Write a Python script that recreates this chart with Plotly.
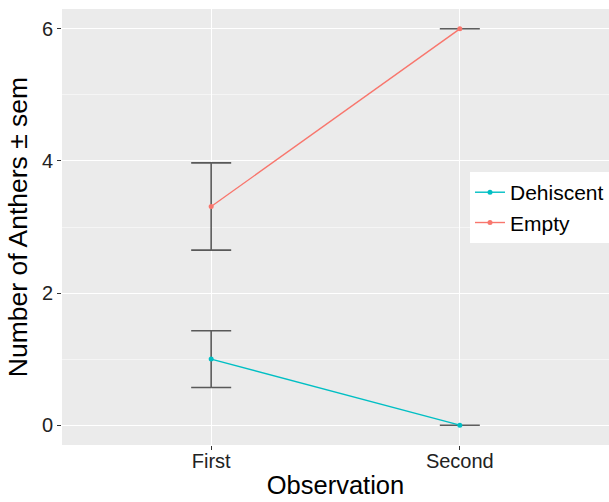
import plotly.graph_objects as go

observations = ["First", "Second"]
series_names = ["Dehiscent", "Empty"]
dehiscent_mean = [1.0, 0.0]
dehiscent_sem = [0.43, 0.0]
empty_mean = [3.31, 6.0]
empty_sem = [0.66, 0.0]
colors = {"Dehiscent": "#00BFC4", "Empty": "#F8766D"}

data = {"Dehiscent": (dehiscent_mean, dehiscent_sem), "Empty": (empty_mean, empty_sem)}

fig = go.Figure()
# error bars first (drawn beneath lines)
for name in series_names:
    m, s = data[name]
    fig.add_trace(go.Scatter(
        x=observations, y=m, mode="markers",
        marker=dict(size=1, opacity=0),
        error_y=dict(type="data", array=s, visible=True, color="rgba(40,40,40,0.75)", thickness=1.6, width=20),
        showlegend=False, hoverinfo="skip"))
for name in series_names:
    m, s = data[name]
    fig.add_trace(go.Scatter(
        x=observations, y=m, mode="lines+markers", name=name,
        line=dict(color=colors[name], width=1.4),
        marker=dict(color=colors[name], size=5)))

fig.update_layout(
    width=609, height=502,
    margin=dict(l=62, r=0, t=9, b=57, autoexpand=False),
    paper_bgcolor="white", plot_bgcolor="#EBEBEB",
    font=dict(family="Liberation Sans, Arial, sans-serif", color="black"),
    legend=dict(x=1, y=0.626, xanchor="right", yanchor="top",
                bgcolor="white", font=dict(size=21, color="black"),
                tracegroupgap=0, itemwidth=30),
    showlegend=True,
)
fig.update_xaxes(
    title=dict(text="Observation", font=dict(size=25.5, color="black"), standoff=5),
    tickfont=dict(size=20, color="#222"), automargin=False, ticklabelstandoff=-6,
    range=[-0.6, 1.6], showgrid=True, gridcolor="white", gridwidth=1.2,
    ticks="outside", ticklen=4, tickcolor="#333", tickwidth=1,
    zeroline=False, showline=False,
)
fig.update_yaxes(
    title=dict(text="Number of Anthers ± sem", font=dict(size=26.5, color="black"), standoff=6),
    tickfont=dict(size=20, color="#222"), automargin=False,
    range=[-0.3, 6.3], tickvals=[0, 2, 4, 6], showgrid=True, gridcolor="white", gridwidth=1.2,
    minor=dict(tickvals=[1, 3, 5], showgrid=True, gridcolor="#F5F5F5", gridwidth=0.6, ticks=""),
    ticks="outside", ticklen=4, tickcolor="#333", tickwidth=1,
    zeroline=False, showline=False,
)
fig.write_html("out.html", config={"displayModeBar": False},
               post_script="document.body.style.margin='0';document.body.style.overflow='hidden';")
